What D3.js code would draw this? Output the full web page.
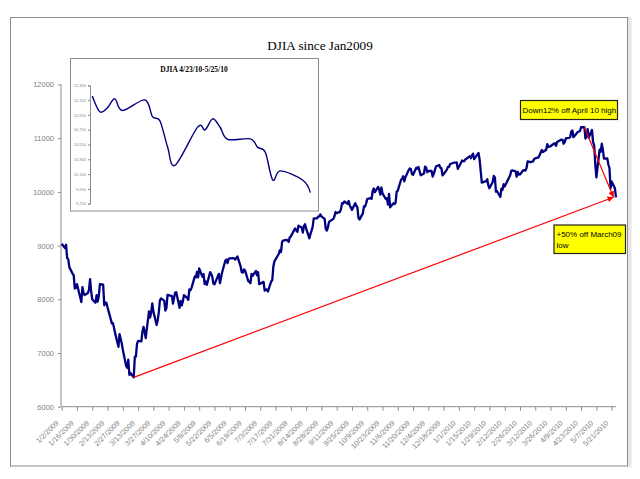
<!DOCTYPE html>
<html>
<head>
<meta charset="utf-8">
<script src="https://cdn.jsdelivr.net/npm/d3@7"></script>
<style>
  body { margin: 0; background: #fff; }
  svg { display: block; }
  .axis text { font-family: 'Liberation Sans', Arial, sans-serif; fill: #7f7f7f; }
  .axis path, .axis line { stroke: #8c8c8c; }
</style>
</head>
<body>
<svg width="640" height="479"></svg>
<script>
// DJIA daily closes, one value per trading day
const closes2009 = [
  // Jan
  9034.69, 8952.89, 9015.10, 8769.70, 8742.46, 8599.18, 8473.97, 8448.56, 8200.14, 8212.49,
  8281.22, 7949.09, 8228.10, 8122.80, 8077.56, 8116.03, 8174.73, 8375.45, 8149.01, 8000.86,
  // Feb
  7936.83, 8078.36, 7956.66, 8063.07, 8280.59, 8270.87, 7888.88, 7939.53, 7932.76, 7850.41,
  7552.60, 7555.63, 7465.95, 7365.67, 7114.78, 7350.94, 7270.89, 7182.08, 7062.93,
  // Mar
  6763.29, 6726.02, 6875.84, 6594.44, 6626.94, 6547.05, 6926.49, 6930.40, 7170.06, 7223.98,
  7216.97, 7395.70, 7486.58, 7400.80, 7278.38, 7775.86, 7659.97, 7749.81, 7924.56, 7776.18,
  7522.02, 7608.92,
  // Apr
  7761.60, 7978.08, 8017.59, 7975.85, 7789.56, 7837.11, 8083.38, 8057.81, 7920.18, 8029.62,
  8125.43, 8131.33, 7841.73, 7969.56, 7886.57, 7957.06, 8076.29, 8025.00, 7989.48, 8185.73,
  8168.12,
  // May
  8212.41, 8426.74, 8410.65, 8512.28, 8409.85, 8574.65, 8418.77, 8469.11, 8284.89, 8331.32,
  8268.64, 8504.08, 8474.85, 8422.04, 8292.13, 8277.32, 8473.49, 8300.02, 8403.80, 8500.33,
  // Jun
  8721.44, 8740.87, 8675.24, 8750.24, 8763.13, 8764.49, 8763.06, 8739.02, 8770.92, 8799.26,
  8612.13, 8504.67, 8497.18, 8555.60, 8539.73, 8339.01, 8322.91, 8299.86, 8472.40, 8438.39,
  8529.38, 8447.00,
  // Jul
  8504.06, 8280.74, 8324.87, 8163.60, 8178.41, 8183.17, 8146.52, 8331.68, 8359.49, 8616.21,
  8711.82, 8743.94, 8848.15, 8915.94, 8881.26, 9069.29, 9093.24, 9108.51, 9096.72, 9070.72,
  9154.46, 9171.61,
  // Aug
  9286.56, 9320.19, 9280.97, 9256.26, 9370.07, 9337.95, 9241.45, 9361.61, 9398.19, 9321.40,
  9135.34, 9217.94, 9279.16, 9350.05, 9505.96, 9509.28, 9539.29, 9543.52, 9580.63, 9544.20,
  9496.28,
  // Sep
  9310.60, 9280.67, 9344.61, 9441.27, 9497.34, 9547.22, 9627.48, 9605.41, 9626.80, 9683.41,
  9791.71, 9783.92, 9820.20, 9778.86, 9829.87, 9748.55, 9707.44, 9665.19, 9789.36, 9742.20,
  9712.28,
  // Oct
  9509.28, 9487.67, 9599.75, 9731.25, 9725.58, 9786.87, 9864.94, 9885.80, 9871.06, 10015.86,
  10062.94, 9995.91, 10092.19, 10041.48, 9949.36, 10081.31, 9972.18, 9867.96, 9882.17, 9762.69,
  9962.58, 9712.73,
  // Nov
  9789.44, 9771.91, 9802.14, 10005.96, 10023.42, 10226.94, 10246.97, 10291.26, 10197.47, 10270.47,
  10406.96, 10437.42, 10426.31, 10332.44, 10318.16, 10450.95, 10433.71, 10464.40, 10309.92, 10344.84,
  // Dec
  10471.58, 10452.68, 10366.15, 10388.90, 10390.11, 10285.97, 10337.05, 10405.83, 10471.50, 10501.05,
  10452.00, 10441.12, 10308.26, 10328.89, 10414.14, 10464.93, 10466.44, 10520.10, 10547.08, 10545.41,
  10548.51, 10428.05
];

const closes2010 = [
  // Jan
  10583.96, 10572.02, 10573.68, 10606.86, 10618.19, 10663.99, 10627.26, 10680.77, 10710.55, 10609.65,
  10725.43, 10603.15, 10389.88, 10172.98, 10196.86, 10194.29, 10236.16, 10120.46, 10067.33,
  // Feb
  10185.53, 10296.85, 10270.55, 10002.18, 10012.23, 9908.39, 10058.64, 10038.38, 10144.19, 10099.14,
  10268.81, 10309.24, 10392.90, 10402.35, 10383.38, 10282.41, 10374.16, 10321.03, 10325.26,
  // Mar
  10403.79, 10405.98, 10396.76, 10444.14, 10566.20, 10552.52, 10564.38, 10567.33, 10611.84, 10624.69,
  10642.15, 10685.98, 10733.67, 10779.17, 10741.98, 10785.89, 10888.83, 10836.15, 10841.21, 10850.36,
  10895.86, 10907.42, 10856.63,
  // Apr
  10927.07, 10973.55, 10969.99, 10897.52, 10927.07, 10997.35, 11005.97, 11019.42, 11123.11, 11144.57,
  11018.66, 11092.05, 11117.06, 11124.92, 11134.29, 11204.28, 11205.03, 10991.99, 11045.27, 11167.32,
  11008.61,
  // May
  11151.83, 10926.77, 10868.12, 10520.32, 10270.00, 10785.14, 10748.26, 10896.91, 10782.95, 10620.16,
  10625.83, 10510.95, 10444.37, 10068.01, 10193.39, 10066.57, 9900.00
];

const marketHolidays = [
  '2009-01-19', '2009-02-16', '2009-04-10', '2009-05-25', '2009-07-03', '2009-09-07',
  '2009-11-26', '2009-12-25', '2010-01-01', '2010-01-18', '2010-02-15', '2010-04-02'
];

const xTickLabels = [
  '1/2/2009', '1/16/2009', '1/30/2009', '2/13/2009', '2/27/2009', '3/13/2009', '3/27/2009',
  '4/10/2009', '4/24/2009', '5/8/2009', '5/22/2009', '6/5/2009', '6/19/2009', '7/3/2009',
  '7/17/2009', '7/31/2009', '8/14/2009', '8/28/2009', '9/11/2009', '9/25/2009', '10/9/2009',
  '10/23/2009', '11/6/2009', '11/20/2009', '12/4/2009', '12/18/2009', '1/1/2010', '1/15/2010',
  '1/29/2010', '2/12/2010', '2/26/2010', '3/12/2010', '3/26/2010', '4/9/2010', '4/23/2010',
  '5/7/2010', '5/21/2010'
];
const yTicks = [6000, 7000, 8000, 9000, 10000, 11000, 12000];

const insetStart = '2010-04-26';
const insetTicks = [9750, 9950, 10150, 10350, 10550, 10750, 10950, 11150, 11350];

const title = 'DJIA since Jan2009';
const insetTitle = 'DJIA 4/23/10-5/25/10';
const noteHigh = 'Down12% off April 10 high';
const noteLow = ['+50% off March09', 'low'];

(function (d3) {
  'use strict';

  const svg = d3.select('svg');
  const parseIso = d3.timeParse('%Y-%m-%d');
  const parseLabel = d3.timeParse('%m/%d/%Y');

  // trading days: weekdays minus exchange holidays
  const holidaySet = new Set(marketHolidays);
  const fmtIso = d3.timeFormat('%Y-%m-%d');
  const tradingDays = d3.timeDay.range(new Date(2009, 0, 2), new Date(2010, 4, 26))
    .filter(d => d.getDay() > 0 && d.getDay() < 6 && !holidaySet.has(fmtIso(d)));
  const closes = closes2009.concat(closes2010);
  const data = tradingDays.map((date, i) => ({ date, value: closes[i] }))
    .filter(d => d.value != null);

  // outer chart frame
  svg.append('rect')
    .attr('x', 627.5).attr('y', 17).attr('width', 4).attr('height', 450)
    .attr('fill', '#e6e6e6');
  svg.append('rect')
    .attr('x', 10.5).attr('y', 17.5).attr('width', 617).attr('height', 448.5)
    .attr('fill', '#fff').attr('stroke', '#8c8c8c');

  svg.append('text')
    .attr('x', 320).attr('y', 50)
    .attr('text-anchor', 'middle')
    .attr('font-family', "'Liberation Serif', 'Times New Roman', serif")
    .attr('font-size', 13.2)
    .text(title);

  // main scales
  const xScale = d3.scaleTime()
    .domain([data[0].date, data[data.length - 1].date])
    .range([61.7, 616]);
  const yScale = d3.scaleLinear()
    .domain([6000, 12000])
    .range([406.7, 84.5]);

  const tickDates = xTickLabels.map(parseLabel);
  const xAxis = d3.axisBottom(xScale)
    .tickValues(tickDates)
    .tickSize(4)
    .tickFormat((d, i) => xTickLabels[i]);
  const xAxisG = svg.append('g')
    .attr('class', 'axis')
    .attr('transform', `translate(0,${yScale(6000)})`)
    .call(xAxis);
  xAxisG.select('.domain').attr('d', `M${xScale.range()[0]},0H${xScale.range()[1]}`);
  xAxisG.selectAll('text')
    .attr('font-size', 7.3)
    .attr('text-anchor', 'end')
    .attr('x', 0).attr('y', 0).attr('dy', '0.35em')
    .attr('transform', 'translate(-5,15) rotate(-45)');

  const yAxis = d3.axisLeft(yScale)
    .tickValues(yTicks)
    .tickSize(3)
    .tickPadding(4)
    .tickFormat(d3.format('d'));
  const yAxisG = svg.append('g')
    .attr('class', 'axis')
    .attr('transform', `translate(${xScale.range()[0] - 0.7},0)`)
    .call(yAxis);
  yAxisG.select('.domain').attr('d', `M0,${yScale.range()[0]}V${yScale.range()[1]}`);
  yAxisG.selectAll('text').attr('font-size', 7.5);

  const lineGenerator = d3.line()
    .x(d => xScale(d.date))
    .y(d => yScale(d.value));

  svg.append('path')
    .attr('d', lineGenerator(data))
    .attr('fill', 'none')
    .attr('stroke', '#000080')
    .attr('stroke-width', 2.3)
    .attr('stroke-linejoin', 'round');

  // inset chart
  const insetData = data.filter(d => d.date >= parseIso(insetStart));
  svg.append('rect')
    .attr('x', 70.5).attr('y', 58.5).attr('width', 248).attr('height', 152.5)
    .attr('fill', '#fff').attr('stroke', '#8c8c8c');
  svg.append('text')
    .attr('x', 194).attr('y', 71.5)
    .attr('text-anchor', 'middle')
    .attr('font-family', "'Liberation Serif', 'Times New Roman', serif")
    .attr('font-weight', 'bold')
    .attr('font-size', 7.5)
    .text(insetTitle);

  const insetX = d3.scaleTime()
    .domain(d3.extent(insetData, d => d.date))
    .range([92.3, 310.4]);
  const insetY = d3.scaleLinear()
    .domain([9750, 11350])
    .range([203.7, 85.3]);

  const insetAxisG = svg.append('g')
    .attr('class', 'axis')
    .attr('transform', 'translate(90,0)')
    .call(d3.axisLeft(insetY).tickValues(insetTicks).tickSize(2).tickPadding(2));
  insetAxisG.selectAll('text').attr('font-size', 4);

  svg.append('path')
    .attr('d', d3.line()
      .x(d => insetX(d.date))
      .y(d => insetY(d.value))
      .curve(d3.curveCardinal.tension(0))(insetData))
    .attr('fill', 'none')
    .attr('stroke', '#000080')
    .attr('stroke-width', 1.4);

  // arrows: from March09 low and from the April high to the latest close
  svg.append('defs').append('marker')
    .attr('id', 'head')
    .attr('viewBox', '0 0 6 6')
    .attr('refX', 6).attr('refY', 3)
    .attr('markerWidth', 5).attr('markerHeight', 5)
    .attr('orient', 'auto')
    .append('path')
    .attr('d', 'M0,0L6,3L0,6z')
    .attr('fill', '#ff0000');

  const low = d3.least(data, d => d.value);
  const high = d3.greatest(data, d => d.value);
  const last = data[data.length - 1];
  const end = [xScale(last.date) - 2.5, yScale(last.value)];

  [low, high].forEach(p => {
    svg.append('line')
      .attr('x1', xScale(p.date)).attr('y1', yScale(p.value))
      .attr('x2', end[0]).attr('y2', end[1])
      .attr('stroke', '#ff0000')
      .attr('stroke-width', 1.2)
      .attr('marker-end', 'url(#head)');
  });

  // note boxes
  const noteFont = "'Liberation Sans', Arial, sans-serif";
  svg.append('rect')
    .attr('x', 520.5).attr('y', 100.5).attr('width', 97).attr('height', 19)
    .attr('fill', '#ffff00').attr('stroke', '#222').attr('stroke-width', 1.2);
  svg.append('text')
    .attr('x', 522.5).attr('y', 113.3)
    .attr('font-family', noteFont).attr('font-size', 8)
    .text(noteHigh);

  svg.append('rect')
    .attr('x', 554).attr('y', 225).attr('width', 71.5).attr('height', 28.5)
    .attr('fill', '#ffff00').attr('stroke', '#222').attr('stroke-width', 1.2);
  svg.append('text')
    .attr('font-family', noteFont).attr('font-size', 8)
    .selectAll('tspan').data(noteLow).join('tspan')
    .attr('x', 556.5)
    .attr('y', (d, i) => 237 + i * 10.5)
    .text(d => d);

}(d3));
</script>
</body>
</html>
